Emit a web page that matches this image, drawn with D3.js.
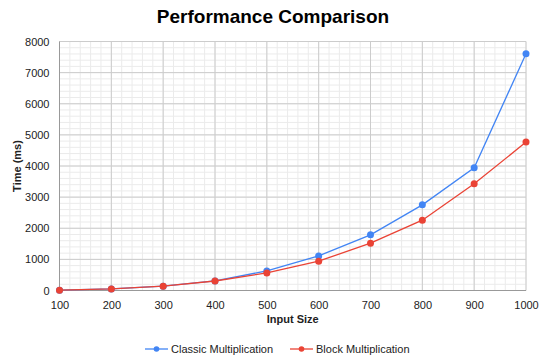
<!DOCTYPE html>
<html>
  <head>
    <meta charset="utf-8">
    <style>
      body { margin: 0; background: #fff; }
      svg { font-family: "Liberation Sans", Arial, sans-serif; }
    </style>
  </head>
  <body>
    <div class='chart-container'></div>
    <script src="https://cdn.jsdelivr.net/npm/d3@7"></script>
    <script>
// data
var inputSizes = [100, 200, 300, 400, 500, 600, 700, 800, 900, 1000];
var classicTimes = [10, 51, 138, 309, 630, 1112, 1788, 2752, 3942, 7608];
var blockTimes = [10, 51, 138, 305, 566, 942, 1521, 2260, 3428, 4768];
var seriesNames = ['Classic Multiplication', 'Block Multiplication'];
var seriesColors = ['#4285f4', '#ea4335'];

var width = 546, height = 364;
var margin = {top: 41.5, right: 20, bottom: 73.5, left: 59.5};

var x = d3.scaleLinear()
    .domain([100, 1000])
    .range([margin.left, width - margin.right]);

var y = d3.scaleLinear()
    .domain([0, 8000])
    .range([height - margin.bottom, margin.top]);

var svg = d3.select('.chart-container').append('svg')
    .attr('width', width)
    .attr('height', height);

// minor grid
var grid = svg.append('g').attr('class', 'grid');
grid.selectAll('.minor-x')
    .data(d3.range(100, 1001, 20))
    .enter().append('line')
      .attr('x1', d => x(d)).attr('x2', d => x(d))
      .attr('y1', y(0)).attr('y2', y(8000))
      .style('stroke', '#ebebeb');
grid.selectAll('.minor-y')
    .data(d3.range(0, 8001, 200))
    .enter().append('line')
      .attr('x1', x(100)).attr('x2', x(1000))
      .attr('y1', d => y(d)).attr('y2', d => y(d))
      .style('stroke', '#ebebeb');

// major grid
grid.selectAll('.major-x')
    .data(inputSizes)
    .enter().append('line')
      .attr('x1', d => x(d)).attr('x2', d => x(d))
      .attr('y1', y(0)).attr('y2', y(8000))
      .style('stroke', '#cccccc');
grid.selectAll('.major-y')
    .data(d3.range(0, 8001, 1000))
    .enter().append('line')
      .attr('x1', x(100)).attr('x2', x(1000))
      .attr('y1', d => y(d)).attr('y2', d => y(d))
      .style('stroke', '#cccccc');

// baselines
svg.append('line')
    .attr('x1', x(100)).attr('x2', x(100))
    .attr('y1', y(0)).attr('y2', y(8000))
    .style('stroke', '#999');
svg.append('line')
    .attr('x1', x(100)).attr('x2', x(1000))
    .attr('y1', y(0)).attr('y2', y(0))
    .style('stroke', '#999');

// axes (labels only)
var yAxis = svg.append('g')
    .attr('transform', 'translate(' + (margin.left - 7) + ',0)')
    .call(d3.axisLeft(y).tickValues(d3.range(0, 8001, 1000)).tickSize(0).tickFormat(d3.format('d')));
var xAxis = svg.append('g')
    .attr('transform', 'translate(0,' + (y(0) + 8) + ')')
    .call(d3.axisBottom(x).tickValues(inputSizes).tickSize(0).tickFormat(d3.format('d')));
[xAxis, yAxis].forEach(function(a) {
  a.select('.domain').remove();
  a.selectAll('text')
      .style('font-family', '"Liberation Sans", Arial, sans-serif')
      .style('font-size', '11px')
      .style('fill', '#222');
});

// title and axis titles
svg.append('text')
    .text('Performance Comparison')
    .attr('x', width / 2).attr('y', 23)
    .attr('text-anchor', 'middle')
    .style('font-size', '19px')
    .style('font-weight', 'bold')
    .style('fill', '#000');

svg.append('text')
    .text('Input Size')
    .attr('x', (x(100) + x(1000)) / 2).attr('y', 323)
    .attr('text-anchor', 'middle')
    .style('font-size', '11px')
    .style('font-weight', 'bold')
    .style('fill', '#222');

svg.append('text')
    .text('Time (ms)')
    .attr('transform', 'translate(21,' + ((y(0) + y(8000)) / 2) + ') rotate(-90)')
    .attr('text-anchor', 'middle')
    .style('font-size', '11px')
    .style('font-weight', 'bold')
    .style('fill', '#222');

// series
var series = [classicTimes, blockTimes].map(function(vals, i) {
  return {
    name: seriesNames[i],
    color: seriesColors[i],
    values: inputSizes.map((s, j) => ({x: s, y: vals[j]}))
  };
});

var line = d3.line()
    .curve(d3.curveLinear)
    .x(d => x(d.x))
    .y(d => y(d.y));

series.forEach(function(s) {
  var g = svg.append('g');
  g.append('path')
      .attr('d', line(s.values))
      .style('fill', 'none')
      .style('stroke', s.color)
      .style('stroke-width', 1.3);
  g.selectAll('circle')
      .data(s.values)
      .enter().append('circle')
        .attr('cx', d => x(d.x))
        .attr('cy', d => y(d.y))
        .attr('r', 3.5)
        .style('fill', s.color);
});

// legend
var legendX = [145, 290];
var legend = svg.append('g');
series.forEach(function(s, i) {
  var lg = legend.append('g').attr('transform', 'translate(' + legendX[i] + ',349)');
  lg.append('line')
      .attr('x1', 0).attr('x2', 23)
      .style('stroke', s.color)
      .style('stroke-width', 1.3);
  lg.append('circle')
      .attr('cx', 11.5).attr('r', 2.8)
      .style('fill', s.color);
  lg.append('text')
      .text(s.name)
      .attr('x', 26).attr('dy', '0.35em')
      .style('font-size', '11px')
      .style('fill', '#222');
});
    </script>
  </body>
</html>
